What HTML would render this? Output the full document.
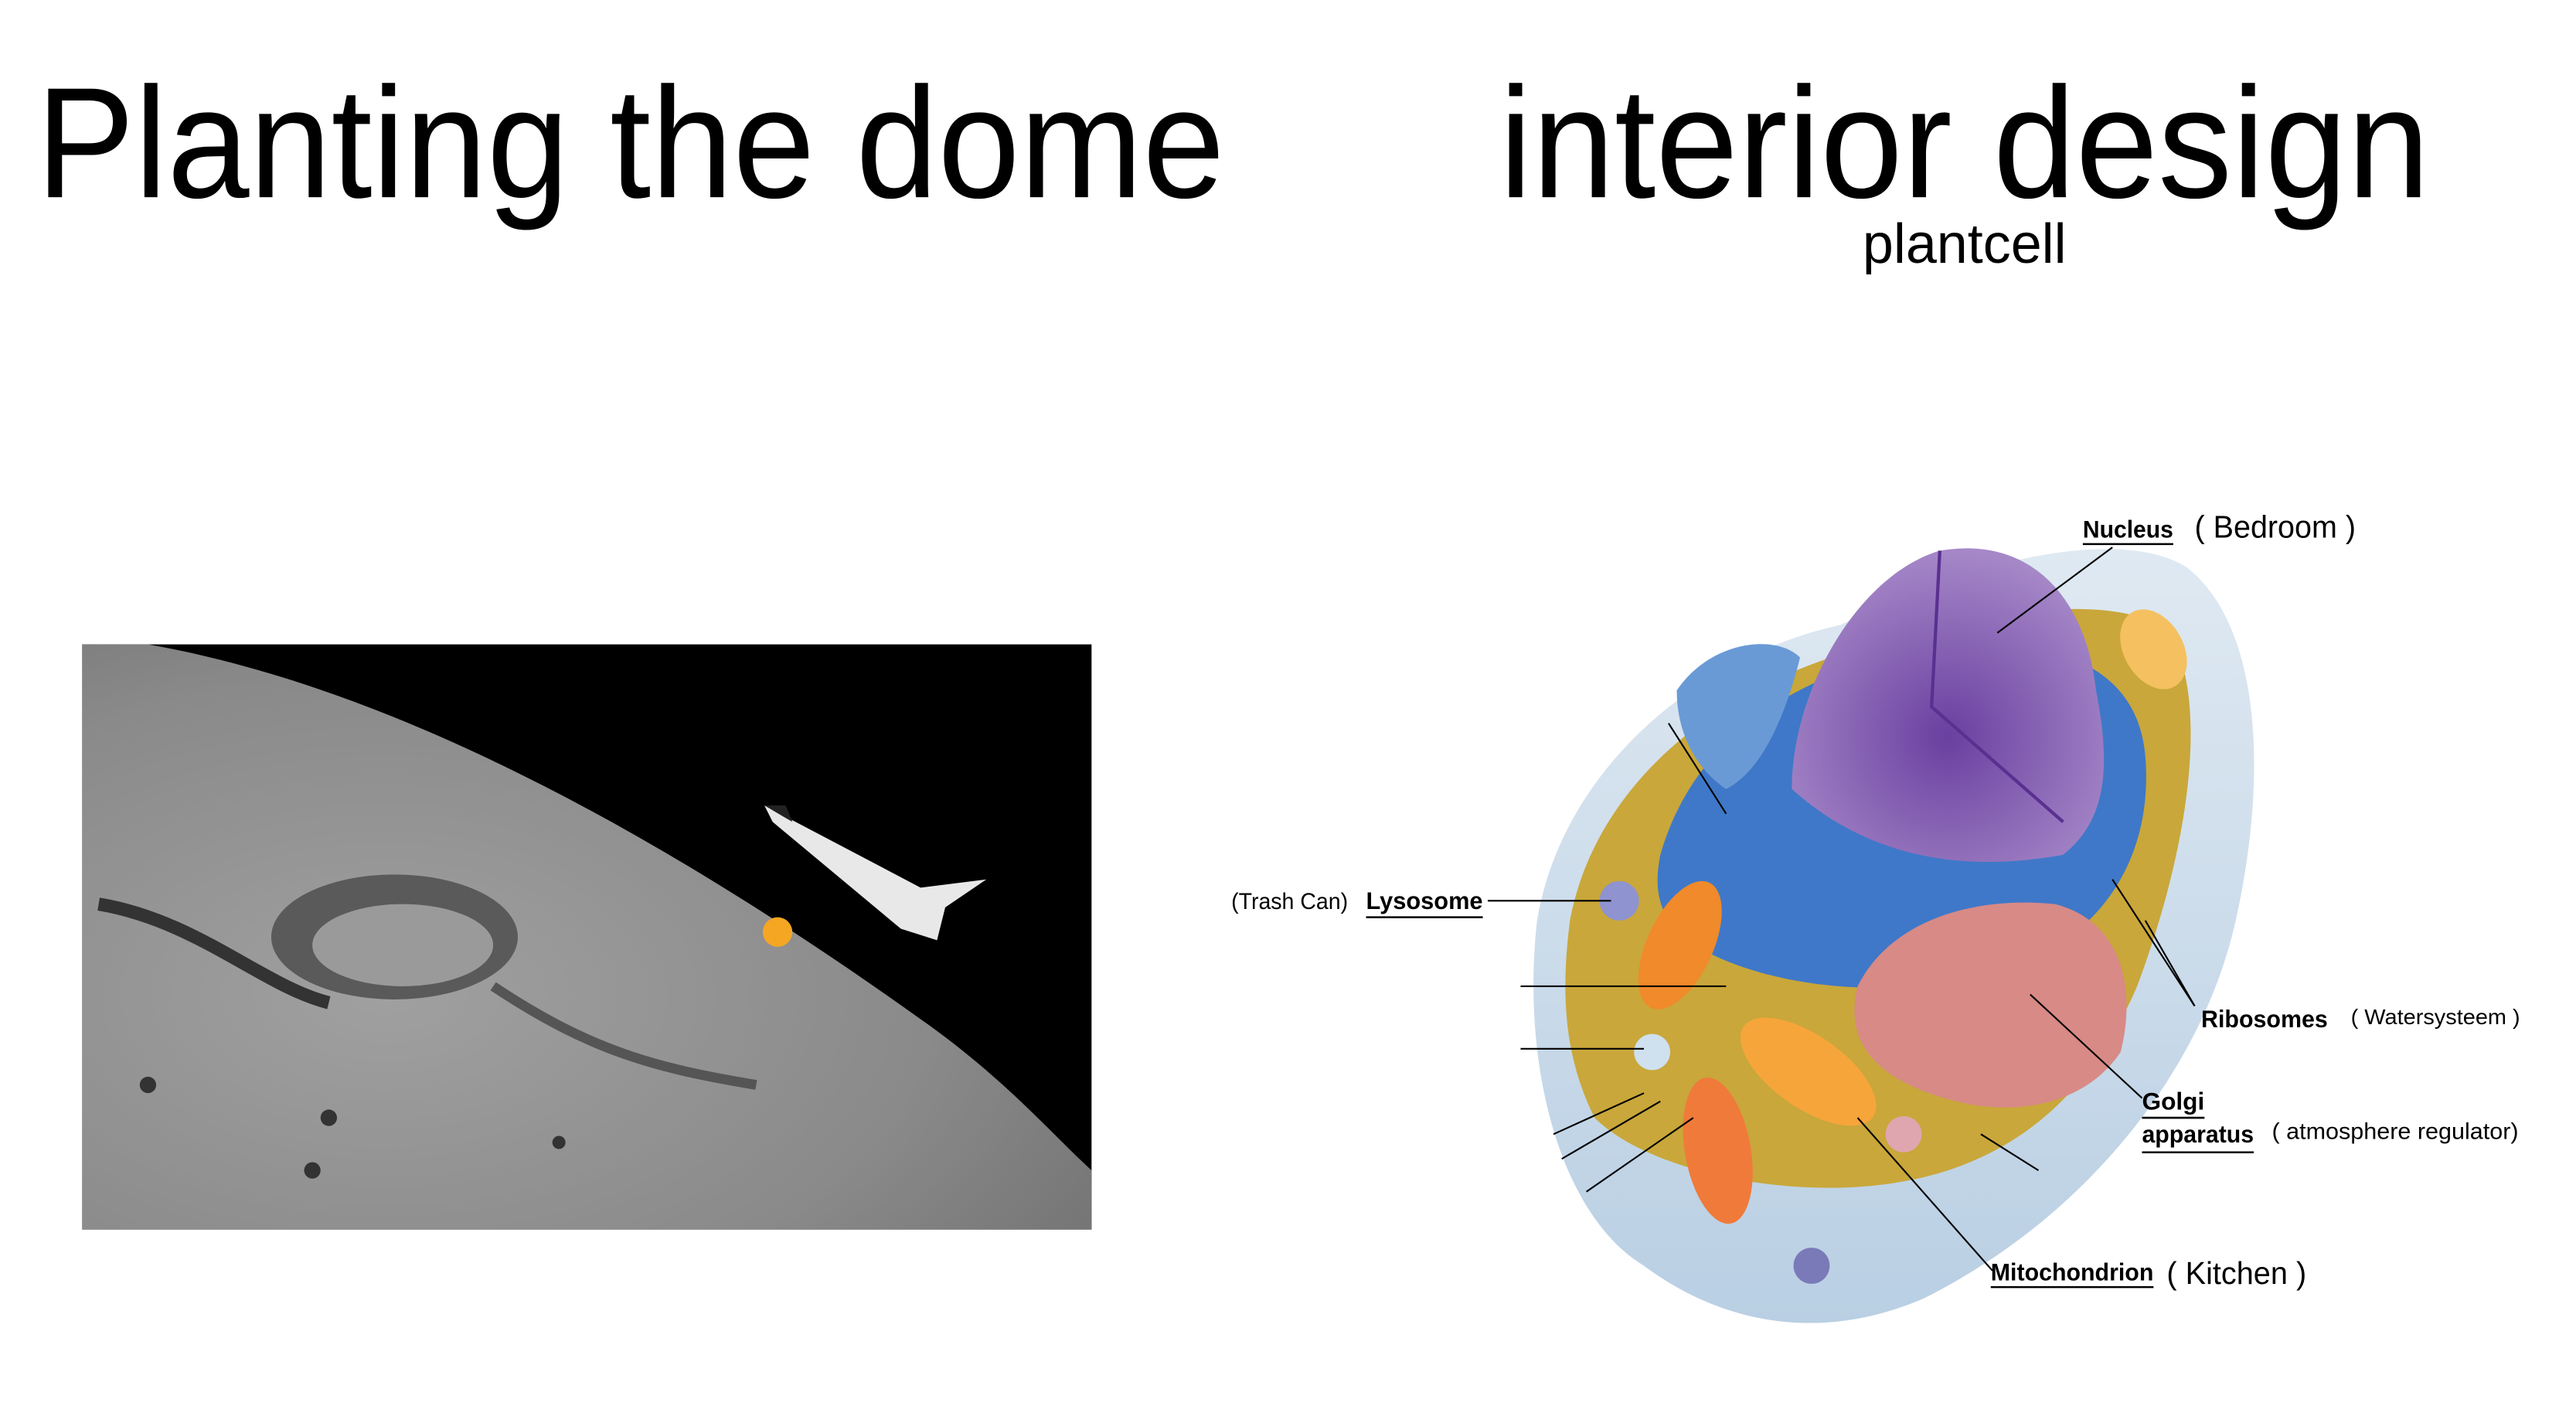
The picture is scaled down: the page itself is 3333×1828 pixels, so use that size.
<!DOCTYPE html>
<html><head><meta charset="utf-8"><style>
html,body{margin:0;padding:0;background:#fff;}
svg{display:block;}
text{font-family:"Liberation Sans",sans-serif;}
</style></head><body>
<svg width="3333" height="1828" viewBox="0 0 1567 859.6" preserveAspectRatio="none" xmlns="http://www.w3.org/2000/svg">
<defs>
<radialGradient id="moon" cx="0.3" cy="0.6" r="0.9">
<stop offset="0" stop-color="#a0a0a0"/><stop offset="0.6" stop-color="#8a8a8a"/><stop offset="1" stop-color="#6e6e6e"/></radialGradient>
<radialGradient id="nuc" cx="0.5" cy="0.6" r="0.6"><stop offset="0" stop-color="#6a3fa0"/><stop offset="1" stop-color="#a688c8"/></radialGradient>
<linearGradient id="shell" x1="0" y1="0" x2="0" y2="1"><stop offset="0" stop-color="#dfe9f2"/><stop offset="1" stop-color="#b9cfe3"/></linearGradient>
</defs>
<text x="22" y="120" font-size="96" textLength="723" lengthAdjust="spacingAndGlyphs">Planting the dome</text>
<text x="912" y="120" font-size="96" textLength="566" lengthAdjust="spacingAndGlyphs">interior design</text>
<text x="1133" y="160" font-size="34" textLength="124" lengthAdjust="spacingAndGlyphs">plantcell</text>

<rect x="50" y="392" width="614" height="356" fill="#000"/>
<path d="M50,392 L90,392 C250,420 420,520 560,620 C610,655 640,690 664,712 L664,748 L50,748 Z" fill="url(#moon)"/>
<ellipse cx="240" cy="570" rx="75" ry="38" fill="#5a5a5a"/>
<ellipse cx="245" cy="575" rx="55" ry="25" fill="#9a9a9a"/>
<path d="M60,550 C120,560 160,600 200,610" stroke="#333" stroke-width="8" fill="none"/>
<path d="M300,600 C360,640 400,650 460,660" stroke="#555" stroke-width="6" fill="none"/>
<circle cx="90" cy="660" r="5" fill="#333"/><circle cx="200" cy="680" r="5" fill="#333"/><circle cx="190" cy="712" r="5" fill="#333"/><circle cx="340" cy="695" r="4" fill="#333"/>
<path d="M465,490 L560,540 L600,535 L575,552 L570,572 L548,565 L470,500 Z" fill="#e8e8e8"/>
<path d="M465,490 L478,490 L482,500 Z" fill="#222"/>
<circle cx="473" cy="567" r="9" fill="#f5a623"/>

<path d="M935,560 C950,470 1030,400 1120,380 C1200,340 1290,320 1330,345 C1375,380 1380,470 1360,560 C1340,650 1270,740 1170,790 C1100,820 1040,800 1000,770 C950,740 925,650 935,560 Z" fill="url(#shell)"/>
<path d="M955,560 C970,480 1040,420 1130,395 C1210,370 1290,360 1320,385 C1345,430 1330,520 1300,600 C1270,670 1220,710 1150,720 C1080,730 1000,710 970,680 C950,640 950,600 955,560 Z" fill="#c9a73a"/>
<path d="M1010,520 C1030,450 1090,410 1170,395 C1240,385 1300,400 1305,460 C1310,520 1280,570 1220,590 C1150,610 1080,600 1040,580 C1010,565 1005,545 1010,520 Z" fill="#3f78c8"/>
<path d="M1020,420 C1040,390 1080,385 1095,400 C1085,440 1070,470 1050,480 C1035,470 1020,450 1020,420 Z" fill="#6a9ad6"/>
<path d="M1090,480 C1090,420 1130,350 1180,335 C1240,325 1270,370 1275,420 C1285,470 1280,500 1255,520 C1200,530 1140,525 1090,480 Z" fill="url(#nuc)"/>
<path d="M1180,335 L1175,430 L1255,500" stroke="#5a3090" stroke-width="2" fill="none"/>
<path d="M1130,600 C1150,560 1200,545 1250,550 C1290,560 1300,600 1290,640 C1270,670 1230,680 1190,670 C1150,660 1120,640 1130,600 Z" fill="#d88a86"/>
<ellipse cx="1022" cy="575" rx="20" ry="42" transform="rotate(25 1022 575)" fill="#f08a2a"/>
<ellipse cx="1100" cy="652" rx="22" ry="48" transform="rotate(-55 1100 652)" fill="#f6a53a"/>
<ellipse cx="1045" cy="700" rx="20" ry="45" transform="rotate(-10 1045 700)" fill="#f07a3a"/>
<ellipse cx="1310" cy="395" rx="18" ry="26" transform="rotate(-30 1310 395)" fill="#f5c060"/>
<circle cx="985" cy="548" r="12" fill="#8f93d0"/><circle cx="1005" cy="640" r="11" fill="#cfe0ef"/>
<circle cx="1158" cy="690" r="11" fill="#e0a6b0"/><circle cx="1102" cy="770" r="11" fill="#7a7ab8"/>

<g stroke="#000" stroke-width="1" fill="none">
<line x1="1285" y1="333" x2="1215" y2="385"/>
<line x1="905" y1="548" x2="980" y2="548"/>
<line x1="1335" y1="612" x2="1285" y2="535"/>
<line x1="1335" y1="612" x2="1305" y2="560"/>
<line x1="1303" y1="668" x2="1235" y2="605"/>
<line x1="1212" y1="773" x2="1130" y2="680"/>
<line x1="925" y1="600" x2="1050" y2="600"/>
<line x1="925" y1="638" x2="1000" y2="638"/>
<line x1="1015" y1="440" x2="1050" y2="495"/>
<line x1="945" y1="690" x2="1000" y2="665"/>
<line x1="950" y1="705" x2="1010" y2="670"/>
<line x1="965" y1="725" x2="1030" y2="680"/>
<line x1="1205" y1="690" x2="1240" y2="712"/>
</g>
<g font-weight="bold" font-size="15">
<text x="1267" y="327" textLength="55" lengthAdjust="spacingAndGlyphs">Nucleus</text>
<text x="831" y="553" textLength="71" lengthAdjust="spacingAndGlyphs">Lysosome</text>
<text x="1339" y="625" textLength="77" lengthAdjust="spacingAndGlyphs">Ribosomes</text>
<text x="1303" y="675" textLength="38" lengthAdjust="spacingAndGlyphs">Golgi</text>
<text x="1303" y="695" textLength="68" lengthAdjust="spacingAndGlyphs">apparatus</text>
<text x="1211" y="779" textLength="99" lengthAdjust="spacingAndGlyphs">Mitochondrion</text>
</g>
<g stroke="#000" stroke-width="1.2">
<line x1="1267" y1="331" x2="1322" y2="331"/><line x1="831" y1="558" x2="902" y2="558"/>
<line x1="1303" y1="680" x2="1341" y2="680"/><line x1="1303" y1="701" x2="1371" y2="701"/>
<line x1="1211" y1="783" x2="1310" y2="783"/>
</g>
<text x="1335" y="327" font-size="19" textLength="98" lengthAdjust="spacingAndGlyphs">( Bedroom )</text>
<text x="749" y="553" font-size="14" textLength="71" lengthAdjust="spacingAndGlyphs">(Trash Can)</text>
<text x="1430" y="623" font-size="13" textLength="103" lengthAdjust="spacingAndGlyphs">( Watersysteem )</text>
<text x="1382" y="693" font-size="14" textLength="150" lengthAdjust="spacingAndGlyphs">( atmosphere regulator)</text>
<text x="1318" y="781" font-size="19" textLength="85" lengthAdjust="spacingAndGlyphs">( Kitchen )</text>
</svg>
</body></html>
